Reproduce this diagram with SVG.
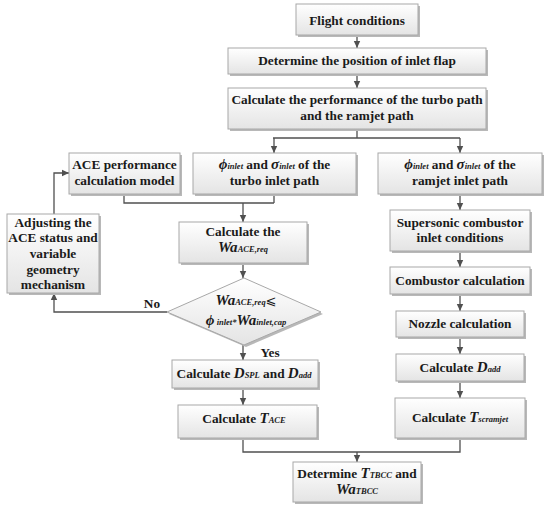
<svg xmlns="http://www.w3.org/2000/svg" width="550" height="511" viewBox="0 0 550 511">
<defs>
<linearGradient id="g" x1="0" y1="0" x2="0" y2="1">
<stop offset="0" stop-color="#ffffff"/>
<stop offset="1" stop-color="#e4e4e4"/>
</linearGradient>
<marker id="ah" markerWidth="8" markerHeight="8" refX="7" refY="4" orient="auto" markerUnits="userSpaceOnUse">
<path d="M0,0.8 L7,4 L0,7.2 Z" fill="#505050"/>
</marker>
</defs>
<style>
.bx{fill:url(#g);stroke:#a8a8a8;stroke-width:1}
.sh{fill:#b8b8b8}
.t{font-family:"Liberation Serif","Times New Roman",serif;font-weight:bold;font-size:13.3px;fill:#1a1a1a;text-anchor:middle}
.i{font-style:italic}
.s{font-style:italic;font-size:8.5px}
.b{font-style:italic;font-size:15px}
.c{fill:none;stroke:#505050;stroke-width:1.3}
.a{marker-end:url(#ah)}
</style>
<rect width="550" height="511" fill="#ffffff"/>

<g id="connectors">
<path class="c a" d="M357,35 V48"/>
<path class="c a" d="M357,74 V88"/>
<path class="c" d="M357,129 V138 M273,138 H460"/>
<path class="c a" d="M274,138 V153"/>
<path class="c a" d="M460,138 V153"/>
<path class="c" d="M124,194 V203 H274 M274,194 V203"/>
<path class="c a" d="M243,203 V222"/>
<path class="c a" d="M243,263 V278"/>
<path class="c a" d="M167,312 H54 V293"/>
<path class="c a" d="M54,214 V173 H69"/>
<path class="c a" d="M243,345 V360"/>
<path class="c a" d="M243,388 V405"/>
<path class="c" d="M243,438 V452 H460 V438"/>
<path class="c a" d="M357,452 V462"/>
<path class="c a" d="M460,194 V210"/>
<path class="c a" d="M460,251 V267"/>
<path class="c a" d="M460,294 V311"/>
<path class="c a" d="M460,337 V354"/>
<path class="c a" d="M460,381 V398"/>
</g>

<g id="flight">
<rect class="sh" x="298" y="6" width="122" height="31"/>
<rect class="bx" x="296" y="4" width="122" height="31"/>
<text class="t" x="357" y="25">Flight conditions</text>
</g>

<g id="determine-flap">
<rect class="sh" x="230" y="50" width="258" height="26"/>
<rect class="bx" x="228" y="48" width="258" height="26"/>
<text class="t" x="357" y="65">Determine the position of inlet flap</text>
</g>

<g id="calc-perf">
<rect class="sh" x="230" y="90" width="258" height="41"/>
<rect class="bx" x="228" y="88" width="258" height="41"/>
<text class="t" x="357" y="104">Calculate the performance of the turbo path</text>
<text class="t" x="357" y="120">and the ramjet path</text>
</g>

<g id="ace-model">
<rect class="sh" x="71" y="155" width="111" height="41"/>
<rect class="bx" x="69" y="153" width="111" height="41"/>
<text class="t" x="124.5" y="169">ACE performance</text>
<text class="t" x="124.5" y="185">calculation model</text>
</g>

<g id="turbo-inlet">
<rect class="sh" x="195" y="155" width="163" height="41"/>
<rect class="bx" x="193" y="153" width="163" height="41"/>
<text class="t" x="274.5" y="169"><tspan class="b">ϕ</tspan><tspan class="s">inlet</tspan> and <tspan class="b">σ</tspan><tspan class="s">inlet</tspan> of the</text>
<text class="t" x="274.5" y="185">turbo inlet path</text>
</g>

<g id="ramjet-inlet">
<rect class="sh" x="380" y="155" width="164" height="41"/>
<rect class="bx" x="378" y="153" width="164" height="41"/>
<text class="t" x="460" y="169"><tspan class="b">ϕ</tspan><tspan class="s">inlet</tspan> and <tspan class="b">σ</tspan><tspan class="s">inlet</tspan> of the</text>
<text class="t" x="460" y="185">ramjet inlet path</text>
</g>

<g id="calc-wa">
<rect class="sh" x="181" y="224" width="128" height="41"/>
<rect class="bx" x="179" y="222" width="128" height="41"/>
<text class="t" x="243" y="236">Calculate the</text>
<text class="t" x="243" y="252"><tspan class="b">Wa</tspan><tspan class="s">ACE,req</tspan></text>
</g>

<g id="adjusting">
<rect class="sh" x="9" y="216" width="92" height="79"/>
<rect class="bx" x="7" y="214" width="92" height="79"/>
<text class="t" x="53" y="227">Adjusting the</text>
<text class="t" x="53" y="242">ACE status and</text>
<text class="t" x="53" y="258">variable</text>
<text class="t" x="53" y="274">geometry</text>
<text class="t" x="53" y="289">mechanism</text>
</g>

<g id="decision">
<path class="sh" d="M246,280 L323,314 L246,347 L169,314 Z"/>
<path class="bx" d="M244,278 L321,312 L244,345 L167,312 Z"/>
<text class="t" x="246" y="305"><tspan class="b">Wa</tspan><tspan class="s">ACE,req</tspan><tspan font-family="DejaVu Sans,sans-serif" font-weight="normal" font-size="13px">⩽</tspan></text>
<text class="t" x="246" y="325"><tspan class="b">ϕ</tspan><tspan class="s"> inlet</tspan><tspan class="s">*</tspan><tspan class="b">Wa</tspan><tspan class="s">inlet,cap</tspan></text>
<text class="t" x="152" y="308">No</text>
<text class="t" x="270" y="357">Yes</text>
</g>

<g id="calc-d">
<rect class="sh" x="174" y="362" width="146" height="28"/>
<rect class="bx" x="172" y="360" width="146" height="28"/>
<text class="t" x="244" y="378">Calculate <tspan class="b">D</tspan><tspan class="s">SPL</tspan> and <tspan class="b">D</tspan><tspan class="s">add</tspan></text>
</g>

<g id="calc-tace">
<rect class="sh" x="180" y="407" width="139" height="33"/>
<rect class="bx" x="178" y="405" width="139" height="33"/>
<text class="t" x="244" y="423">Calculate <tspan class="b">T</tspan><tspan class="s">ACE</tspan></text>
</g>

<g id="determine-tbcc">
<rect class="sh" x="295" y="464" width="128" height="40"/>
<rect class="bx" x="293" y="462" width="128" height="40"/>
<text class="t" x="357" y="478">Determine <tspan class="b">T</tspan><tspan class="s">TBCC</tspan> and</text>
<text class="t" x="357" y="494"><tspan class="b">Wa</tspan><tspan class="s">TBCC</tspan></text>
</g>

<g id="supersonic">
<rect class="sh" x="392" y="212" width="140" height="41"/>
<rect class="bx" x="390" y="210" width="140" height="41"/>
<text class="t" x="460" y="227">Supersonic combustor</text>
<text class="t" x="460" y="242">inlet conditions</text>
</g>

<g id="combustor">
<rect class="sh" x="392" y="269" width="140" height="27"/>
<rect class="bx" x="390" y="267" width="140" height="27"/>
<text class="t" x="460" y="285">Combustor calculation</text>
</g>

<g id="nozzle">
<rect class="sh" x="398" y="313" width="128" height="26"/>
<rect class="bx" x="396" y="311" width="128" height="26"/>
<text class="t" x="460" y="328">Nozzle calculation</text>
</g>

<g id="calc-dadd">
<rect class="sh" x="398" y="356" width="128" height="27"/>
<rect class="bx" x="396" y="354" width="128" height="27"/>
<text class="t" x="460" y="372">Calculate <tspan class="b">D</tspan><tspan class="s">add</tspan></text>
</g>

<g id="calc-tscramjet">
<rect class="sh" x="397" y="400" width="130" height="40"/>
<rect class="bx" x="395" y="398" width="130" height="40"/>
<text class="t" x="460" y="422">Calculate <tspan class="b">T</tspan><tspan class="s">scramjet</tspan></text>
</g>
</svg>
